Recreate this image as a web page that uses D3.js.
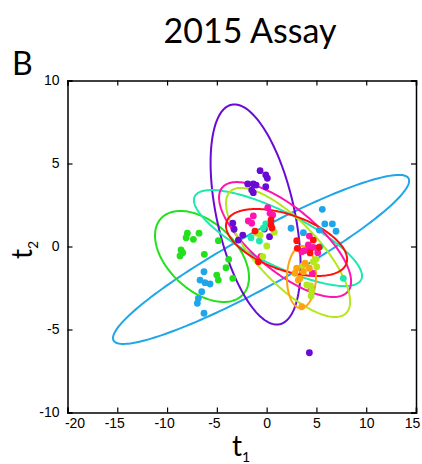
<!DOCTYPE html>
<html>
<head>
<meta charset="utf-8">
<script src="https://cdn.jsdelivr.net/npm/d3@7"></script>
<style>
  html, body { margin: 0; padding: 0; background: #fff; }
  svg { display: block; }
</style>
</head>
<body>
<svg id="chart" width="422" height="464"></svg>
<script>
// ---------- data ----------
const xTicks = [-20, -15, -10, -5, 0, 5, 10, 15];
const yTicks = [-10, -5, 0, 5, 10];
const groupNames = ["blue", "green", "purple", "teal", "magenta", "yellowgreen", "red", "orange"];

const ptsBlue = [[-6.29,-1.52],[-6.69,-2.02],[-6.19,-2.18],[-5.68,-2.26],[-6.52,-2.72],[-6.86,-3.12],[-6.96,-3.42],[-6.29,-4.02],
                 [5.59,2.24],[2.45,1.10],[3.69,0.83],[5.84,1.36],[6.60,1.36],[6.97,0.92],[5.29,0.99]];
const ptsGreen = [[-7.96,0.80],[-8.09,0.53],[-6.79,0.80],[-7.36,0.43],[-4.85,0.35],[-8.60,-0.21],[-8.43,-0.37],[-8.70,-0.57],
                  [-6.26,-0.47],[-3.81,-0.77],[-4.08,-1.28],[-5.01,-1.72],[-4.85,-2.02],[-3.40,-1.92]];
const ptsPurple = [[-0.66,4.57],[-0.09,4.31],[0.07,4.11],[-1.90,3.77],[-1.34,3.77],[-1.06,3.70],[-1.50,3.40],[-1.34,3.24],
                   [-0.09,3.60],[-3.40,1.40],[-3.27,1.04],[-2.84,0.39],[-2.40,0.69],[-0.23,1.05],[0.29,0.59],[4.29,-6.40]];
const ptsTeal = [[-1.57,0.53],[-0.73,0.33],[-0.33,1.10],[-0.09,1.36],[7.70,-1.92],[5.36,-0.01]];
const ptsMagenta = [[-1.84,1.54],[-1.34,1.84],[-1.50,1.40],[0.11,2.34],[0.34,2.00],[0.61,1.90],[-0.59,-0.61],[4.29,0.63],
                    [4.69,-0.05],[4.36,-0.17],[4.19,0.09],[3.76,-0.25],[3.53,-0.31],[5.13,-0.37],[4.59,-1.61],[4.46,-2.58]];
const ptsYellowGreen = [[-0.99,0.80],[-0.66,0.69],[0.77,0.86],[0.01,0.03],[-0.39,-0.61],[3.63,-1.17],[3.86,-1.07],[4.96,-0.77],
                        [5.03,-1.22],[4.69,-0.92],[4.03,-2.32],[4.43,-2.38],[4.53,-2.66],[4.46,-2.98]];
const ptsRed = [[-1.17,0.93],[0.44,1.30],[0.44,1.60],[0.54,1.11],[3.02,0.35],[3.08,-0.11],[4.69,0.39],[5.26,-0.05],[-0.83,-0.92],[4.36,-0.39]];
const ptsOrange = [[3.02,-1.31],[2.85,-1.61],[3.18,-2.02],[3.69,-1.52],[3.86,-1.01],[4.29,-1.31],[3.35,-1.92],[3.53,-3.63]];

// ellipse parameters per group (centre, half-extent in x and y, correlation)
const ellCx  = [-0.56, -6.49, -1.11, 1.14, 1.85, 2.15, 2.00, 3.50];
const ellCy  = [-0.78, -0.60,  1.93, 0.51, 0.42, -0.36, 0.24, -1.84];
const ellRx  = [14.87, 4.72, 4.52, 8.44, 6.63, 6.23, 6.08, 1.46];
const ellRy  = [ 5.09, 2.74, 6.63, 2.89, 3.46, 3.89, 2.02, 1.87];
const ellRho = [ 0.93, -0.46, -0.47, -0.79, -0.73, -0.76, -0.50, 0.05];

const groupColors = ["#1fa6e8", "#22e01c", "#6a0ad6", "#1de8b0", "#ff14b0", "#b4e81e", "#ff1010", "#ffa30f"];
const groupPoints = [ptsBlue, ptsGreen, ptsPurple, ptsTeal, ptsMagenta, ptsYellowGreen, ptsRed, ptsOrange];

// ---------- layout ----------
const svg = d3.select("#chart");
const L = 67.5, R = 416, T = 80.5, B = 412.5;
const x = d3.scaleLinear().domain([-20, 15]).range([L, R]);
const y = d3.scaleLinear().domain([-10, 10]).range([B, T]);

// title & panel letter
svg.append("text").attr("x", 250).attr("y", 43).attr("text-anchor", "middle")
  .style("font-family", "Lato, 'Noto Sans', sans-serif").style("font-size", "34px").text("2015 Assay");
svg.append("text").attr("x", 12).attr("y", 75)
  .style("font-family", "Lato, 'Noto Sans', sans-serif").style("font-size", "32px").text("B");

// ellipses
const line = d3.line().x(d => x(d[0])).y(d => y(d[1])).curve(d3.curveLinearClosed);
const gE = svg.append("g");
groupNames.forEach((g, i) => {
  const pts = d3.range(0, 181).map(k => {
    const t = k / 180 * 2 * Math.PI;
    const r = ellRho[i];
    return [ellCx[i] + ellRx[i] * Math.cos(t),
            ellCy[i] + ellRy[i] * (r * Math.cos(t) + Math.sqrt(1 - r * r) * Math.sin(t))];
  });
  gE.append("path").attr("d", line(pts)).attr("fill", "none")
    .attr("stroke", groupColors[i]).attr("stroke-width", 2);
});

// points
const gP = svg.append("g");
groupNames.forEach((g, i) => {
  gP.selectAll(null).data(groupPoints[i]).enter().append("circle")
    .attr("cx", d => x(d[0])).attr("cy", d => y(d[1])).attr("r", 3.4)
    .attr("fill", groupColors[i]);
});

// axes: box with inward ticks on all sides
const tickFont = "'Liberation Sans', Arial, sans-serif";
const axB = svg.append("g").attr("transform", `translate(0,${B})`)
  .call(d3.axisBottom(x).tickValues(xTicks).tickSize(-5).tickPadding(6).tickFormat(d3.format("d")));
const axT = svg.append("g").attr("transform", `translate(0,${T})`)
  .call(d3.axisTop(x).tickValues(xTicks).tickSize(-5).tickFormat(""));
const axL = svg.append("g").attr("transform", `translate(${L},0)`)
  .call(d3.axisLeft(y).tickValues(yTicks).tickSize(-5).tickPadding(8).tickFormat(d3.format("d")));
const axR = svg.append("g").attr("transform", `translate(${R},0)`)
  .call(d3.axisRight(y).tickValues(yTicks).tickSize(-5).tickFormat(""));
[axB, axT, axL, axR].forEach(a => {
  a.select(".domain").attr("stroke", "#000").attr("stroke-width", 1.5);
  a.selectAll(".tick line").attr("stroke", "#000").attr("stroke-width", 1.2);
  a.selectAll("text").style("font-family", tickFont).style("font-size", "14px").attr("fill", "#000");
});
axB.selectAll(".tick text").text(d => d3.format("d")(d).replace("\u2212", "-"));
axL.selectAll(".tick text").text(d => d3.format("d")(d).replace("\u2212", "-"));
// end labels nudged inward as in the reference
axB.selectAll(".tick text").filter(d => d === -20).attr("dx", 7);
axB.selectAll(".tick text").filter(d => d === 15).attr("dx", -4);
axB.selectAll(".tick text").filter(d => d < 0 && d > -20).attr("dx", -3);

// axis labels
const lab = svg.append("text").attr("x", 241).attr("y", 456).attr("text-anchor", "middle")
  .style("font-family", "Lato, 'Noto Sans', sans-serif").style("font-size", "28px");
lab.append("tspan").text("t");
lab.append("tspan").attr("dy", 6).style("font-size", "14px").text("1");

const labY = svg.append("text").attr("transform", "translate(32,250) rotate(-90)").attr("text-anchor", "middle")
  .style("font-family", "Lato, 'Noto Sans', sans-serif").style("font-size", "28px");
labY.append("tspan").text("t");
labY.append("tspan").attr("dy", 6).style("font-size", "14px").text("2");
</script>
</body>
</html>
